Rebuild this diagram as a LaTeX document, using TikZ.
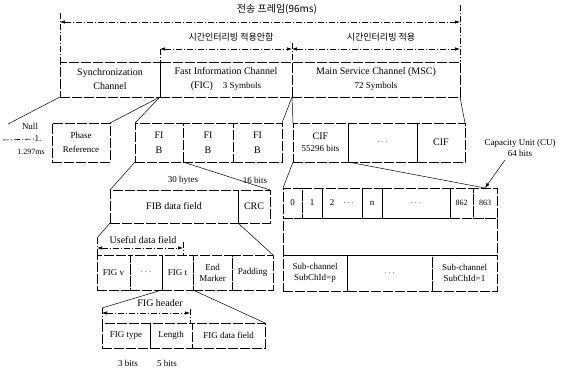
\documentclass[tikz,border=0pt]{standalone}
\usepackage{fontspec}
\setmainfont{Liberation Serif}
\newfontfamily\kor{Noto Sans CJK KR}
\usetikzlibrary{arrows.meta}

\begin{document}
\begin{tikzpicture}[
    x=1pt, y=-1pt,
    cell/.style={rectangle, draw, line width=0.6pt, dash pattern=on 10pt off 2pt,
                 anchor=north west, inner sep=0pt, outer sep=0pt, align=center,
                 font=\small},
    bigcell/.style={cell, font=\normalsize},
    cucell/.style={cell, minimum height=30pt},
    lbl/.style={inner sep=0pt, align=center, font=\small},
    kor/.style={inner sep=0pt, font=\kor\small},
    guide/.style={line width=0.6pt, dash pattern=on 6pt off 2pt on 1pt off 2pt},
    dimarr/.style={guide, {Latex[length=5pt,width=3.5pt]}-{Latex[length=5pt,width=3.5pt]}},
    spread/.style={line width=0.5pt},
    cuarr/.style={-{Latex[length=5pt,width=3.5pt]}, line width=0.5pt}
]
\useasboundingbox (0,0) rectangle (561,371);

% transmission frame
\coordinate (fl) at (60,13);
\coordinate (fr) at (460,5);
\coordinate (al) at (60,22);
\coordinate (ar) at (460,22);
\coordinate (bl) at (160,49);
\coordinate (bm) at (292,49);
\coordinate (br) at (460,49);
\coordinate (bt) at (292,43);

\node[kor, font=\kor\normalsize] (frame) at (277,9) {전송 프레임(96ms)};
\node[kor] (nointl) at (231,37) {시간인터리빙 적용안함};
\node[kor] (intl) at (381,37) {시간인터리빙 적용};

\node[bigcell, minimum width=100pt, minimum height=35pt] (sync) at (60,62) {Synchronization\\[2pt]Channel};
\node[bigcell, minimum width=132pt, minimum height=35pt] (fic) at (160,62) {Fast Information Channel\\[2pt](FIC)\quad{\small 3 Symbols}};
\node[bigcell, minimum width=168pt, minimum height=35pt] (msc) at (292,62) {Main Service Channel (MSC)\\[2pt]{\small 72 Symbols}};

\draw[dimarr] (al) -- (ar);
\draw[dimarr] (bl) -- (bm);
\draw[dimarr] (bm) -- (br);
\draw[guide] (fl) -- (sync.north west);
\draw[guide] (fr) -- (msc.north east);
\draw[guide] (bt) -- (msc.north west);
\draw[guide] (bl) -- (fic.north west);

% symbols
\coordinate (nd) at (3,140);
\coordinate (nt) at (8,124);
\node[lbl] (null) at (30,126) {Null};
\node[lbl] (nullone) at (38,139) {1.};
\node[lbl, font=\footnotesize] (nulltime) at (31,152) {1.297ms};
\node[cell, minimum width=58pt, minimum height=39pt] (phase) at (52,123) {Phase\\[3pt]Reference};

\node[bigcell, minimum width=48pt, minimum height=39pt] (fib1) at (135,123) {FI\\[3pt]B};
\node[bigcell, minimum width=50pt, minimum height=39pt] (fib2) at (183,123) {FI\\[3pt]B};
\node[bigcell, minimum width=49pt, minimum height=39pt] (fib3) at (233,123) {FI\\[3pt]B};

\node[cell, minimum width=55pt, minimum height=39pt] (cif1) at (293,123) {{\normalsize CIF}\\[1pt]55296 bits};
\node[cell, minimum width=69pt, minimum height=39pt] (cifdots) at (348,123) {$\cdots$};
\node[bigcell, minimum width=48pt, minimum height=39pt] (cifn) at (417,123) {CIF};
\node[lbl] (cu) at (520,148) {Capacity Unit (CU)\\64 bits};

\draw[guide] (nd) -- (nullone.west);
\draw[spread] (sync.south west) -- (nt);
\draw[spread] (sync.south east) -- (phase.north east);
\draw[spread] (fic.south west) -- (fib1.north west);
\draw[spread] (fic.south east) -- (fib3.north east);
\draw[spread] (msc.south west) -- (cif1.north west);
\draw[spread] (msc.south east) -- (cifn.north east);

% FIB
\node[lbl] (bytes) at (183,180) {30 bytes};
\node[lbl] (crcbits) at (255,180) {16 bits};
\node[bigcell, minimum width=128pt, minimum height=33pt] (fibdata) at (110,190) {FIB data field};
\node[bigcell, minimum width=32pt, minimum height=33pt] (crc) at (238,190) {CRC};

\draw[spread] (fib1.south west) -- (fibdata.north west);
\draw[spread] (fib1.south east) -- (crc.north east);

% capacity units
\coordinate (cutail) at (505,160);
\node[cucell, minimum width=19pt] (cu0) at (283,188) {0};
\node[cucell, minimum width=20pt] (cu1) at (302,188) {1};
\node[cucell, minimum width=40pt] (cu2) at (322,188) {2\quad$\cdots$};
\node[cucell, minimum width=20pt] (cun) at (362,188) {n};
\node[cucell, minimum width=68pt] (cudots) at (382,188) {$\cdots$};
\node[cucell, minimum width=23pt, font=\footnotesize] (cu862) at (450,188) {862};
\node[cucell, minimum width=24pt, font=\footnotesize] (cu863) at (473,188) {863};

\node[cell, minimum width=214pt, minimum height=37pt] (subframe) at (283,218) {};
\node[cell, minimum width=64pt, minimum height=36pt] (subp) at (283,255) {Sub-channel\\SubChId=p};
\node[cell, minimum width=85pt, minimum height=36pt] (subdots) at (347,255) {$\cdots$};
\node[cell, minimum width=65pt, minimum height=36pt] (subone) at (432,255) {Sub-channel\\SubChId=1};

\draw[spread] (cif1.south west) -- (cu0.north west);
\draw[spread] (cif1.south east) -- (cu863.north);
\draw[cuarr] (cutail) -- (cu863.north);

% FIGs
\coordinate (uc) at (97,238);
\coordinate (ul) at (97,248);
\coordinate (ur) at (183,248);
\coordinate (ut) at (183,242);
\coordinate (utb) at (183,255);
\node[lbl, font=\normalsize] (useful) at (143,240) {Useful data field};
\node[cell, minimum width=33pt, minimum height=35pt] (figv) at (97,255) {FIG v};
\node[cell, minimum width=32pt, minimum height=35pt] (figdots) at (130,255) {$\cdots$};
\node[cell, minimum width=31pt, minimum height=35pt] (figt) at (162,255) {FIG t};
\node[cell, minimum width=39pt, minimum height=35pt] (endm) at (193,255) {End\\Marker};
\node[cell, minimum width=41pt, minimum height=35pt] (pad) at (232,255) {Padding};

\draw[spread] (fibdata.south west) -- (uc);
\draw[guide] (uc) -- (figv.north west);
\draw[spread] (crc.south west) -- (pad.north east);
\draw[dimarr] (ul) -- (ur);
\draw[guide] (ut) -- (utb);

% FIG header
\coordinate (hc) at (102,308);
\coordinate (hl) at (102,313);
\coordinate (hr) at (190,313);
\coordinate (ht) at (190,309);
\coordinate (hb) at (190,323);
\node[lbl, font=\normalsize] (fighdr) at (160,303) {FIG header};
\node[cell, minimum width=48pt, minimum height=25pt] (figtype) at (102,323) {FIG type};
\node[cell, minimum width=42pt, minimum height=25pt] (figlen) at (150,323) {Length};
\node[cell, minimum width=73pt, minimum height=25pt] (figdata) at (192,323) {FIG data field};
\node[lbl] (typebits) at (128,363) {3 bits};
\node[lbl] (lenbits) at (167,363) {5 bits};

\draw[spread] (figt.south west) -- (hc);
\draw[guide] (hc) -- (figtype.north west);
\draw[spread] (figt.south east) -- (figdata.north east);
\draw[dimarr] (hl) -- (hr);
\draw[guide] (ht) -- (hb);

\end{tikzpicture}
\end{document}
